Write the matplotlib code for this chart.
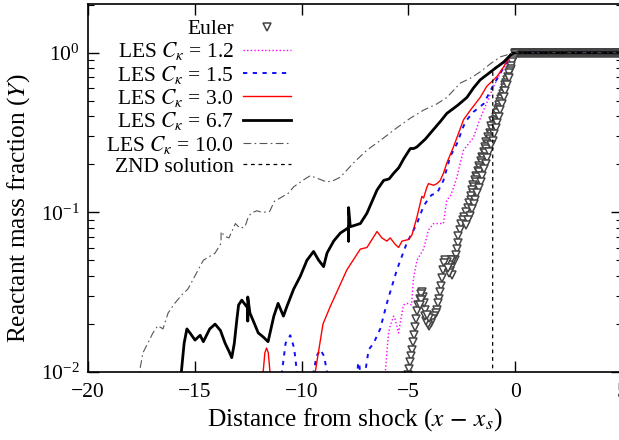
import numpy as np
import matplotlib
matplotlib.use("Agg")
import matplotlib.pyplot as plt

plt.rcParams['font.family'] = ['Liberation Serif', 'DejaVu Serif']
plt.rcParams['mathtext.fontset'] = 'stix'
plt.rcParams['font.size'] = 15

# ---- data (x = distance from shock, values are log10(Y)) ----
euler_plateau_x = np.arange(0.0, 5.001, 0.02)   # Euler Y = 1 ahead of the shock
euler_x = [-0.02, -0.06, -0.10, -0.14, -0.18, -0.22, -0.26, -0.30, -0.34, -0.38,
           -0.42, -0.46, -0.50, -0.54, -0.58, -0.62, -0.66, -0.70, -0.74, -0.78,
           -0.82, -0.86, -0.90, -0.93, -1.06, -1.01, -1.12, -1.07, -1.20, -1.13,
           -1.28, -1.19, -1.36, -1.27, -1.42, -1.35, -1.48, -1.43, -1.56, -1.51,
           -1.62, -1.57, -1.70, -1.63, -1.76, -1.71, -1.84, -1.77, -1.90, -1.85,
           -1.96, -1.91, -2.02, -1.99, -2.08, -2.05, -2.16, -2.22, -2.30, -2.38,
           -2.46, -2.54, -2.60, -2.66, -2.70, -2.74, -2.79, -2.84, -2.90, -2.96,
           -3.02, -3.00, -2.97, -3.06, -3.12, -3.20, -3.28, -3.34, -3.38, -3.42,
           -3.46, -3.50, -3.55, -3.60, -3.66, -3.72, -3.80, -3.88, -3.96, -4.04,
           -4.10, -4.16, -4.20, -4.24, -4.28, -4.32, -4.36, -4.42, -4.48, -4.54,
           -4.60, -4.66, -4.71, -4.76, -4.80, -4.84, -4.88, -4.92, -4.96, -5.00]
euler_logy = [-0.01, -0.03, -0.045, -0.06, -0.08, -0.10, -0.115, -0.13, -0.15, -0.17,
              -0.19, -0.20, -0.22, -0.24, -0.26, -0.275, -0.29, -0.31, -0.33, -0.345,
              -0.36, -0.38, -0.40, -0.42, -0.43, -0.45, -0.46, -0.48, -0.50, -0.51,
              -0.53, -0.54, -0.56, -0.57, -0.59, -0.60, -0.62, -0.63, -0.65, -0.66,
              -0.68, -0.69, -0.71, -0.72, -0.74, -0.75, -0.77, -0.78, -0.80, -0.81,
              -0.83, -0.84, -0.86, -0.88, -0.90, -0.92, -0.94, -0.97, -1.00, -1.03,
              -1.05, -1.07, -1.11, -1.15, -1.19, -1.23, -1.27, -1.30, -1.30, -1.31,
              -1.30, -1.35, -1.39, -1.37, -1.33, -1.31, -1.30, -1.32, -1.36, -1.41,
              -1.46, -1.50, -1.54, -1.57, -1.61, -1.63, -1.65, -1.67, -1.69, -1.71,
              -1.70, -1.68, -1.65, -1.61, -1.57, -1.53, -1.50, -1.51, -1.54, -1.58,
              -1.62, -1.67, -1.72, -1.77, -1.81, -1.86, -1.90, -1.94, -1.98, -2.02]
# right-hand edge of the Euler point cloud along the steep part
euler_edge_x = [-0.30, -0.38, -0.46, -0.54, -0.62, -0.70, -0.78, -0.84, -0.92, -1.00,
                -1.06, -1.14, -1.22, -1.30, -1.38, -1.46, -1.54, -1.62, -1.70, -1.78,
                -1.86, -1.94, -2.02, -2.12, -2.22, -2.32, -3.10, -3.16, -4.02, -4.12,
                -4.40, -4.46]
euler_edge_logy = [-0.16, -0.20, -0.24, -0.28, -0.32, -0.36, -0.40, -0.44, -0.47, -0.51,
                   -0.55, -0.58, -0.62, -0.66, -0.70, -0.73, -0.77, -0.81, -0.85, -0.88,
                   -0.92, -0.95, -0.98, -1.02, -1.05, -1.08, -1.38, -1.35, -1.66, -1.64,
                   -1.55, -1.58]

ck12_x = [5.0, -0.1, -0.23, -0.47, -0.70, -1.01, -1.25, -1.48, -1.72, -1.95,
          -2.18, -2.42, -2.57, -2.73, -2.90, -3.04, -3.20, -3.36, -3.60, -3.82,
          -4.06, -4.29, -4.60, -4.77, -4.85, -5.07, -5.23, -5.38, -5.46, -5.62,
          -5.69, -5.85, -5.93, -6.01, -6.08, -6.15]
ck12_logy = [0.0, 0.0, -0.016, -0.08, -0.13, -0.21, -0.29, -0.36, -0.44, -0.53,
             -0.57, -0.61, -0.69, -0.78, -0.85, -0.90, -0.92, -1.07, -1.07, -1.07,
             -1.11, -1.23, -1.30, -1.42, -1.58, -1.57, -1.58, -1.69, -1.755, -1.67,
             -1.65, -1.71, -1.755, -1.88, -2.0, -2.3]

ck15_x = [5.0, -0.1, -0.23, -0.70, -1.01, -1.48, -1.95, -2.26, -2.42, -2.73,
          -3.04, -3.36, -3.66, -3.90, -3.98, -4.29, -4.60, -4.83, -5.07, -5.54,
          -6.01, -6.32, -6.63, -6.86, -7.02, -7.10, np.nan,
          -7.42, -7.36, -7.30, -7.24, np.nan,
          -9.50, -9.44, -9.30, -9.12, -8.95, -8.81, -8.75, np.nan,
          -11.0, -10.92, -10.75, -10.53, -10.35, -10.22, -10.10]
ck15_logy = [0.0, 0.0, -0.016, -0.13, -0.20, -0.32, -0.37, -0.42, -0.46, -0.57,
             -0.65, -0.80, -0.88, -0.89, -0.90, -0.96, -1.07, -1.13, -1.19, -1.36,
             -1.57, -1.73, -1.82, -1.86, -2.0, -2.2, np.nan,
             -2.1, -1.95, -1.94, -2.05, np.nan,
             -2.2, -2.0, -1.90, -1.86, -1.90, -2.0, -2.2, np.nan,
             -2.2, -2.0, -1.82, -1.77, -1.85, -2.0, -2.2]

ck30_x = [5.0, -0.1, -0.23, -0.55, -0.86, -1.33, -1.64, -2.10, -2.42, -2.89,
          -3.20, -3.36, -3.51, -3.66, -3.82, -4.06, -4.13, -4.29, -4.37, -4.60,
          -4.83, -4.99, -5.30, -5.46, -5.62, -5.85, -6.01, -6.24, -6.47, -6.94,
          -7.25, -7.88, -8.66, -9.00, -9.12, -9.36, -9.45, np.nan,
          -11.85, -11.80, -11.72, -11.64, -11.56, -11.48, -11.42]
ck30_logy = [0.0, 0.0, -0.016, -0.09, -0.15, -0.21, -0.28, -0.36, -0.42, -0.59,
             -0.69, -0.755, -0.80, -0.82, -0.83, -0.82, -0.84, -0.91, -0.90, -1.03,
             -1.14, -1.17, -1.18, -1.22, -1.20, -1.16, -1.18, -1.16, -1.12, -1.22,
             -1.23, -1.36, -1.59, -1.70, -1.80, -2.0, -2.2, np.nan,
             -2.2, -2.0, -1.88, -1.85, -1.88, -2.0, -2.2]

ck67_x = [5.0, -0.1, -0.23, -0.55, -0.86, -1.25, -1.64, -1.95, -2.26, -2.70,
          -3.20, -3.50, -3.82, -4.20, -4.60, -4.75, -4.91, -5.20, -5.45, -5.69,
          -5.90, -6.16, -6.47, -6.94, -7.25, -7.72, -7.80, -7.80, -7.80, -7.85,
          -8.19, -8.50, -8.81, -8.97, -9.20, -9.44, -9.75, -10.06, -10.37, -10.69,
          -10.85, -11.10, -11.30, -11.57, -11.80, -12.03, -12.20, -12.42, -12.52, -12.52,
          -12.52, -12.80, -12.95, -13.03, -13.15, -13.27, -13.40, -13.58, -13.80, -14.05,
          -14.30, -14.60, -14.75, -14.99, -15.20, -15.37, -15.50, -15.63, -15.70]
ck67_logy = [0.0, 0.0, -0.016, -0.06, -0.09, -0.13, -0.17, -0.22, -0.28, -0.33,
             -0.38, -0.43, -0.48, -0.54, -0.59, -0.60, -0.60, -0.66, -0.72, -0.755,
             -0.79, -0.80, -0.86, -1.005, -1.07, -1.09, -0.97, -1.18, -1.09, -1.10,
             -1.13, -1.18, -1.255, -1.34, -1.30, -1.245, -1.30, -1.40, -1.48, -1.59,
             -1.65, -1.57, -1.65, -1.81, -1.78, -1.755, -1.70, -1.63, -1.53, -1.68,
             -1.60, -1.55, -1.58, -1.67, -1.82, -1.91, -1.87, -1.82, -1.74, -1.70,
             -1.73, -1.81, -1.77, -1.80, -1.76, -1.73, -1.82, -2.0, -2.3]

ck100_x = [5.0, -0.1, -0.30, -0.70, -1.17, -1.64, -2.10, -2.57, -3.20, -3.66,
           -4.30, -4.91, -5.54, -6.32, -6.94, -7.57, -8.19, -8.50, -8.81, -9.20,
           -9.59, -9.95, -10.37, -10.62, -11.00, -11.27, -11.50, -11.85, -12.10, -12.36,
           -12.50, -12.65, -12.88, -13.10, -13.40, -13.60, -13.77, -13.77, -13.80, -14.05,
           -14.36, -14.60, -15.00, -15.32, -15.63, -15.94, -16.25, -16.49, -16.73, -16.96,
           -17.20, -17.43, -17.59, -17.70]
ck100_logy = [0.0, 0.0, -0.01, -0.026, -0.07, -0.12, -0.16, -0.19, -0.28, -0.32,
              -0.36, -0.41, -0.47, -0.55, -0.61, -0.69, -0.78, -0.80, -0.81, -0.79,
              -0.77, -0.80, -0.84, -0.88, -0.91, -0.93, -0.995, -1.00, -0.99, -1.005,
              -1.03, -1.09, -1.10, -1.07, -1.16, -1.15, -1.12, -1.19, -1.20, -1.255,
              -1.28, -1.30, -1.40, -1.48, -1.52, -1.57, -1.63, -1.73, -1.71, -1.755,
              -1.82, -1.88, -2.0, -2.1]

znd_x = [5.0, 0.0, -0.5, -1.0, -1.05, -1.06]
znd_logy = [0.0, 0.0, -0.05, -0.10, -0.12, -3.0]

labels = ['Euler', 'LES $C_\\kappa$ = 1.2', 'LES $C_\\kappa$ = 1.5', 'LES $C_\\kappa$ = 3.0',
          'LES $C_\\kappa$ = 6.7', 'LES $C_\\kappa$ = 10.0', 'ZND solution']


def to_y(logy):
    return 10.0 ** np.array(logy, dtype=float)


fig = plt.figure(figsize=(6.19, 4.40), dpi=100)
ax = fig.add_axes([88 / 619, 68 / 440, 534 / 619, 368 / 440])

ex = np.concatenate([euler_plateau_x, euler_x, euler_edge_x])
ey = np.concatenate([np.ones_like(euler_plateau_x), to_y(euler_logy), to_y(euler_edge_logy)])
ax.plot(ex, ey, ls='none', marker='v', ms=5.8, mfc='white', mec='#444444', mew=1.1,
        label=labels[0])
ax.plot(ck12_x, to_y(ck12_logy), color='#ff00ff', lw=1.0, dashes=(1, 1.6), label=labels[1])
ax.plot(ck15_x, to_y(ck15_logy), color='#1010ff', lw=1.4, dashes=(2.2, 2.8), label=labels[2])
ax.plot(ck30_x, to_y(ck30_logy), color='#ff0000', lw=1.0, label=labels[3])
ax.plot(ck67_x, to_y(ck67_logy), color='black', lw=2.0, label=labels[4])
ax.plot(ck100_x, to_y(ck100_logy), color='#555555', lw=0.8, dashes=(7, 3, 1.5, 3), label=labels[5])
ax.plot(znd_x, to_y(znd_logy), color='black', lw=0.9, dashes=(3, 3), label=labels[6])

ax.set_yscale('log')
ax.set_xlim(-20, 5)
ax.set_ylim(0.01, 2.02)
ax.set_xticks([-20, -15, -10, -5, 0, 5])
ax.set_xticklabels(['\u221220', '\u221215', '\u221210', '\u22125', '0', '5'])
ax.tick_params(which='both', direction='in', top=True, right=True, labelsize=15.5)
ax.tick_params(which='major', length=8, width=1.0)
ax.tick_params(axis='x', which='major', pad=8)
ax.tick_params(axis='y', which='major', pad=6)
ax.tick_params(which='minor', length=4.5, width=0.8)
ax.tick_params(axis='x', which='minor', top=False, bottom=False)
for s in ax.spines.values():
    s.set_linewidth(1.2)

ax.set_xlabel(r'Distance from shock ($x \,-\, x_s$)', fontsize=18.3, labelpad=3)
ax.set_ylabel(r'Reactant mass fraction ($Y$)', fontsize=18.3)
ax.yaxis.set_label_coords(-0.104, 0.446)

ax.legend(loc='upper right', bbox_to_anchor=(0.409, 1.0), frameon=False,
          markerfirst=False, numpoints=1, handlelength=2.25, handletextpad=0.42,
          labelspacing=0.06, borderpad=0.2, fontsize=15.5)

fig.savefig('out.png', dpi=100)
